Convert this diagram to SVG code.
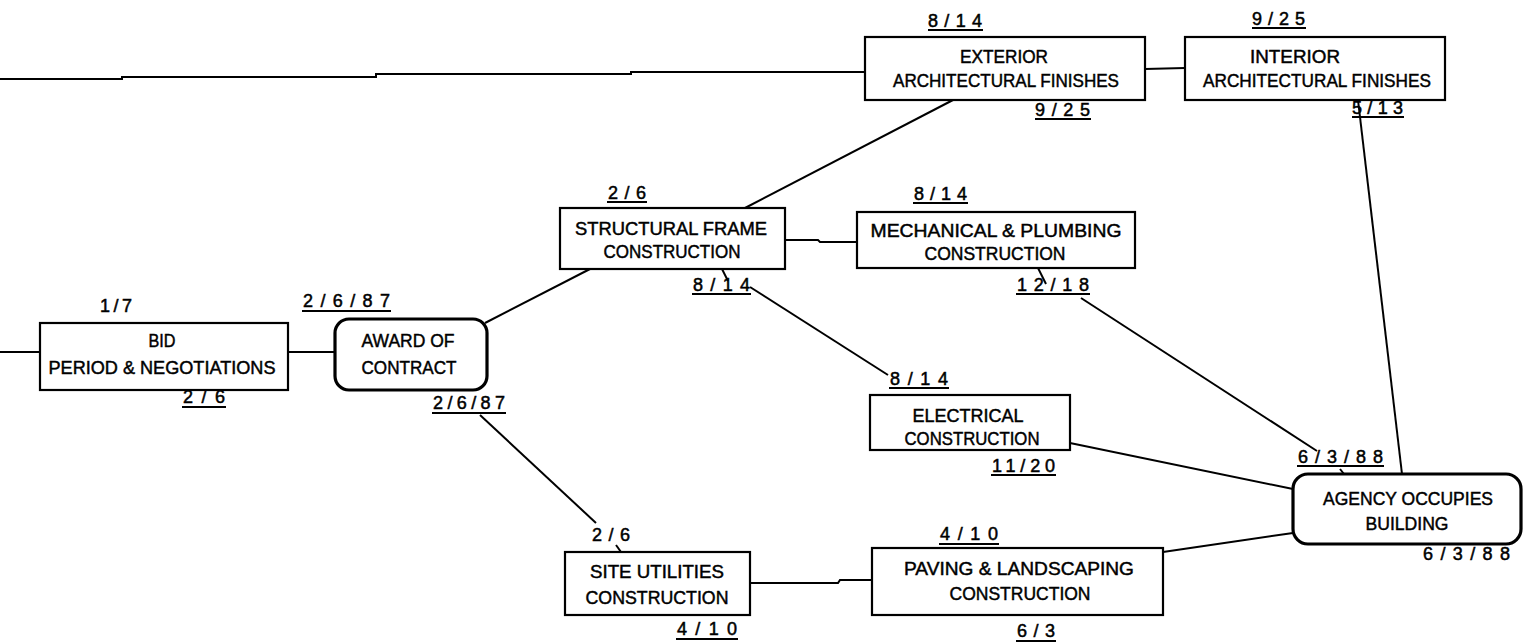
<svg xmlns="http://www.w3.org/2000/svg" width="1531" height="644" viewBox="0 0 1531 644">
<style>
.box{fill:#fff;stroke:#000;stroke-width:2.2}
.rbox{fill:#fff;stroke:#000;stroke-width:3.2}
.t{font-family:"Liberation Sans",Arial,sans-serif;font-size:18px;text-anchor:middle;fill:#000;stroke:#000;stroke-width:0.45}
.d{font-family:"Liberation Sans",Arial,sans-serif;font-size:18px;fill:#000;stroke:#000;stroke-width:0.5}
.u{stroke:#000;stroke-width:2}
.c{fill:none;stroke:#000;stroke-width:2}
</style>
<rect width="1531" height="644" fill="#fff"/>
<g id="connectors">
<polyline class="c" points="0,79 122,79 122,77 376,77 376,74 631,74 631,72 865,72"/>
<line class="c" x1="1145" y1="69" x2="1185" y2="68"/>
<line class="c" x1="1358" y1="100" x2="1402" y2="474"/>
<line class="c" x1="953" y1="100" x2="745" y2="208"/>
<polyline class="c" points="785,240 818,240 820,242 857,242"/>
<line class="c" x1="485" y1="323" x2="590" y2="269"/>
<line class="c" x1="0" y1="352" x2="40" y2="352"/>
<line class="c" x1="288" y1="352" x2="335" y2="352"/>
<line class="c" x1="722" y1="269" x2="728" y2="281"/>
<line class="c" x1="750" y1="287" x2="888" y2="375"/>
<line class="c" x1="1038" y1="268" x2="1046" y2="284"/>
<line class="c" x1="1081" y1="298" x2="1317" y2="451"/>
<line class="c" x1="1340" y1="469" x2="1344" y2="474"/>
<line class="c" x1="1070" y1="443" x2="1293" y2="489"/>
<line class="c" x1="1163" y1="552" x2="1293" y2="533"/>
<line class="c" x1="480" y1="415" x2="596" y2="523"/>
<line class="c" x1="616" y1="545" x2="621" y2="552"/>
<polyline class="c" points="750,583 838,583 840,580 872,580"/>
</g>
<g id="exterior">
<rect class="box" x="865" y="37" width="280" height="63"/>
<text class="t" x="1004" y="63" textLength="88" lengthAdjust="spacingAndGlyphs">EXTERIOR</text>
<text class="t" x="1006" y="87" textLength="226" lengthAdjust="spacingAndGlyphs">ARCHITECTURAL FINISHES</text>
<text class="d" x="928" y="27" textLength="54" lengthAdjust="spacing">8/14</text><line class="u" x1="928" y1="30" x2="983" y2="30"/>
<text class="d" x="1035" y="116" textLength="55" lengthAdjust="spacing">9/25</text><line class="u" x1="1035" y1="119" x2="1091" y2="119"/>
</g>
<g id="interior">
<rect class="box" x="1185" y="37" width="260" height="63"/>
<text class="t" x="1295" y="63" textLength="90" lengthAdjust="spacingAndGlyphs">INTERIOR</text>
<text class="t" x="1317" y="87" textLength="228" lengthAdjust="spacingAndGlyphs">ARCHITECTURAL FINISHES</text>
<text class="d" x="1252" y="25" textLength="53" lengthAdjust="spacing">9/25</text><line class="u" x1="1252" y1="28" x2="1306" y2="28"/>
<text class="d" x="1352" y="114" textLength="51" lengthAdjust="spacing">5/13</text><line class="u" x1="1352" y1="117" x2="1404" y2="117"/>
</g>
<g id="structural">
<rect class="box" x="560" y="208" width="225" height="61"/>
<text class="t" x="671" y="235" textLength="192" lengthAdjust="spacingAndGlyphs">STRUCTURAL FRAME</text>
<text class="t" x="672" y="258" textLength="137" lengthAdjust="spacingAndGlyphs">CONSTRUCTION</text>
<text class="d" x="608" y="199" textLength="38" lengthAdjust="spacing">2/6</text><line class="u" x1="607" y1="202" x2="647" y2="202"/>
<text class="d" x="693" y="291" textLength="57" lengthAdjust="spacing">8/14</text><line class="u" x1="692" y1="294" x2="751" y2="294"/>
</g>
<g id="mechanical">
<rect class="box" x="857" y="212" width="278" height="56"/>
<text class="t" x="996" y="237" textLength="251" lengthAdjust="spacingAndGlyphs">MECHANICAL &amp; PLUMBING</text>
<text class="t" x="995" y="260" textLength="141" lengthAdjust="spacingAndGlyphs">CONSTRUCTION</text>
<text class="d" x="914" y="200" textLength="53" lengthAdjust="spacing">8/14</text><line class="u" x1="913" y1="203" x2="968" y2="203"/>
<text class="d" x="1017" y="291" textLength="72" lengthAdjust="spacing">12/18</text><line class="u" x1="1016" y1="294" x2="1090" y2="294"/>
</g>
<g id="bid">
<rect class="box" x="40" y="323" width="248" height="67"/>
<text class="t" x="162" y="347" textLength="27" lengthAdjust="spacingAndGlyphs">BID</text>
<text class="t" x="162" y="374" textLength="227" lengthAdjust="spacingAndGlyphs">PERIOD &amp; NEGOTIATIONS</text>
<text class="d" x="100" y="312" textLength="32" lengthAdjust="spacing">1/7</text>
<text class="d" x="183" y="403" textLength="42" lengthAdjust="spacing">2/6</text><line class="u" x1="182" y1="407" x2="226" y2="407"/>
</g>
<g id="award">
<rect class="rbox" x="335" y="319" width="152" height="71" rx="14"/>
<text class="t" x="408" y="347" textLength="93" lengthAdjust="spacingAndGlyphs">AWARD OF</text>
<text class="t" x="409" y="374" textLength="95" lengthAdjust="spacingAndGlyphs">CONTRACT</text>
<text class="d" x="303" y="307" textLength="87" lengthAdjust="spacing">2/6/87</text><line class="u" x1="302" y1="311" x2="391" y2="311"/>
<text class="d" x="433" y="409" textLength="72" lengthAdjust="spacing">2/6/87</text><line class="u" x1="432" y1="413" x2="506" y2="413"/>
</g>
<g id="electrical">
<rect class="box" x="870" y="395" width="200" height="55"/>
<text class="t" x="968" y="422" textLength="111" lengthAdjust="spacingAndGlyphs">ELECTRICAL</text>
<text class="t" x="972" y="445" textLength="135" lengthAdjust="spacingAndGlyphs">CONSTRUCTION</text>
<text class="d" x="890" y="385" textLength="58" lengthAdjust="spacing">8/14</text><line class="u" x1="889" y1="388" x2="949" y2="388"/>
<text class="d" x="992" y="472" textLength="63" lengthAdjust="spacing">11/20</text><line class="u" x1="991" y1="475" x2="1056" y2="475"/>
</g>
<g id="site">
<rect class="box" x="565" y="552" width="185" height="63"/>
<text class="t" x="657" y="578" textLength="134" lengthAdjust="spacingAndGlyphs">SITE UTILITIES</text>
<text class="t" x="657" y="604" textLength="143" lengthAdjust="spacingAndGlyphs">CONSTRUCTION</text>
<text class="d" x="592" y="541" textLength="38" lengthAdjust="spacing">2/6</text>
<text class="d" x="677" y="635" textLength="60" lengthAdjust="spacing">4/10</text><line class="u" x1="676" y1="639" x2="738" y2="639"/>
</g>
<g id="paving">
<rect class="box" x="872" y="548" width="291" height="67"/>
<text class="t" x="1019" y="575" textLength="230" lengthAdjust="spacingAndGlyphs">PAVING &amp; LANDSCAPING</text>
<text class="t" x="1020" y="600" textLength="141" lengthAdjust="spacingAndGlyphs">CONSTRUCTION</text>
<text class="d" x="940" y="540" textLength="58" lengthAdjust="spacing">4/10</text><line class="u" x1="939" y1="544" x2="999" y2="544"/>
<text class="d" x="1017" y="637" textLength="38" lengthAdjust="spacing">6/3</text><line class="u" x1="1016" y1="641" x2="1056" y2="641"/>
</g>
<g id="agency">
<rect class="rbox" x="1293" y="474" width="228" height="70" rx="15"/>
<text class="t" x="1408" y="505" textLength="170" lengthAdjust="spacingAndGlyphs">AGENCY OCCUPIES</text>
<text class="t" x="1407" y="530" textLength="83" lengthAdjust="spacingAndGlyphs">BUILDING</text>
<text class="d" x="1298" y="463" textLength="85" lengthAdjust="spacing">6/3/88</text><line class="u" x1="1297" y1="466" x2="1384" y2="466"/>
<text class="d" x="1423" y="560" textLength="87" lengthAdjust="spacing">6/3/88</text>
</g>
</svg>
